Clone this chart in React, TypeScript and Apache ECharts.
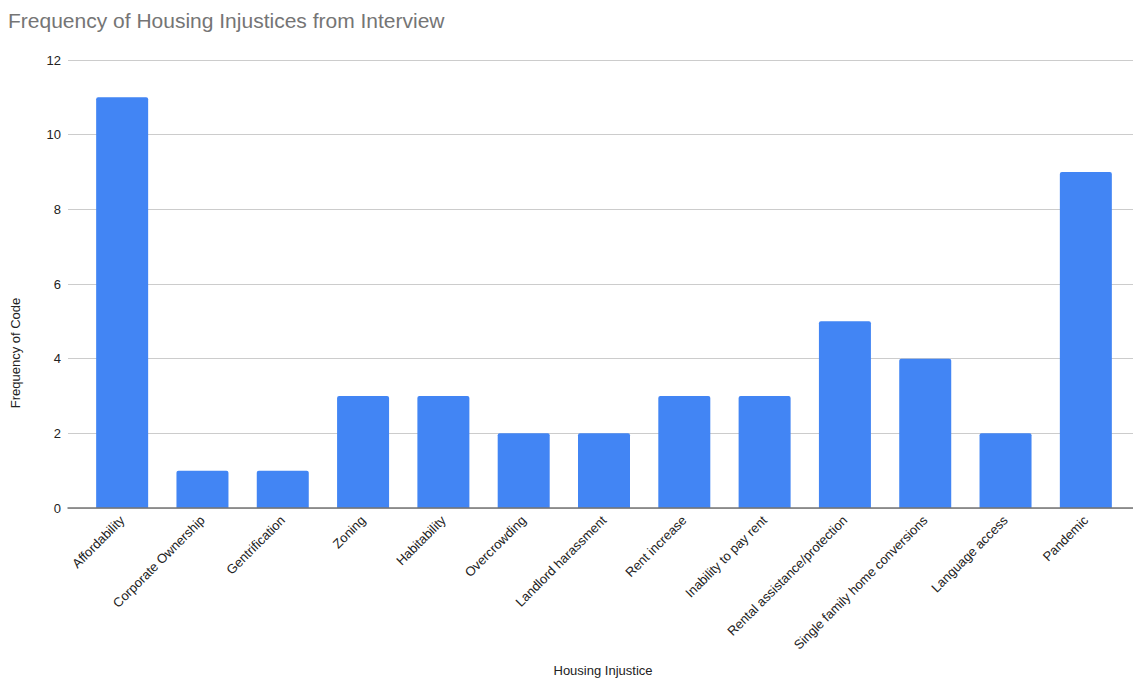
import React, { useEffect, useRef } from "react";
import * as echarts from "echarts";

const categories = [
  "Affordability",
  "Corporate Ownership",
  "Gentrification",
  "Zoning",
  "Habitability",
  "Overcrowding",
  "Landlord harassment",
  "Rent increase",
  "Inability to pay rent",
  "Rental assistance/protection",
  "Single family home conversions",
  "Language access",
  "Pandemic",
];
const frequency = [11, 1, 1, 3, 3, 2, 2, 3, 3, 5, 4, 2, 9];

const FONT = "Liberation Sans, Arial, sans-serif";

export default function App() {
  const ref = useRef<HTMLDivElement>(null);
  useEffect(() => {
    if (!ref.current) return;
    const chart = echarts.init(ref.current, null, { renderer: "svg" });
    chart.setOption({
      animation: false,
      backgroundColor: "#ffffff",
      title: {
        text: "Frequency of Housing Injustices from Interview",
        left: 3,
        top: 5,
        textStyle: { fontFamily: FONT, fontSize: 21, fontWeight: "normal", color: "#757575" },
      },
      grid: [
        { left: 68, right: 0, top: 60, bottom: 170 },
        { left: 82, right: 7, top: 60, bottom: 170 },
      ],
      xAxis: [
        {
          gridIndex: 0,
          type: "value",
          min: 0,
          max: 1,
          z: 5,
          axisLine: { show: true, lineStyle: { color: "#757575", width: 1.5 } },
          axisTick: { show: false },
          axisLabel: { show: false },
          splitLine: { show: false },
        },
        {
          gridIndex: 1,
          type: "category",
          data: categories,
          axisLine: { show: false },
          axisTick: { show: false },
          axisLabel: {
            rotate: 45,
            interval: 0,
            margin: 10,
            fontFamily: FONT,
            fontSize: 13,
            color: "#222222",
          },
        },
      ],
      yAxis: [
        {
          gridIndex: 0,
          type: "value",
          min: 0,
          max: 12,
          interval: 2,
          axisLine: { show: false },
          axisTick: { show: false },
          axisLabel: { margin: 7, fontFamily: FONT, fontSize: 13, color: "#222222" },
          splitLine: { lineStyle: { color: "#cccccc", width: 1 } },
        },
        {
          gridIndex: 1,
          type: "value",
          min: 0,
          max: 12,
          interval: 2,
          show: false,
        },
      ],
      series: [
        {
          type: "bar",
          xAxisIndex: 1,
          yAxisIndex: 1,
          data: frequency,
          barWidth: 52,
          itemStyle: { color: "#4285F4", borderRadius: [2, 2, 0, 0] },
        },
      ],
      graphic: [
        {
          type: "text",
          x: 9,
          y: 353,
          rotation: Math.PI / 2,
          style: {
            text: "Frequency of Code",
            fontFamily: FONT,
            fontSize: 13,
            fill: "#222222",
            textAlign: "center",
            textVerticalAlign: "top",
          },
        },
        {
          type: "text",
          x: 603,
          y: 670,
          style: {
            text: "Housing Injustice",
            fontFamily: FONT,
            fontSize: 13,
            fill: "#222222",
            textAlign: "center",
            textVerticalAlign: "middle",
          },
        },
      ],
    });
    return () => chart.dispose();
  }, []);
  return (
    <div
      ref={ref}
      style={{ position: "fixed", left: 0, top: 0, width: 1133, height: 678 }}
    />
  );
}
